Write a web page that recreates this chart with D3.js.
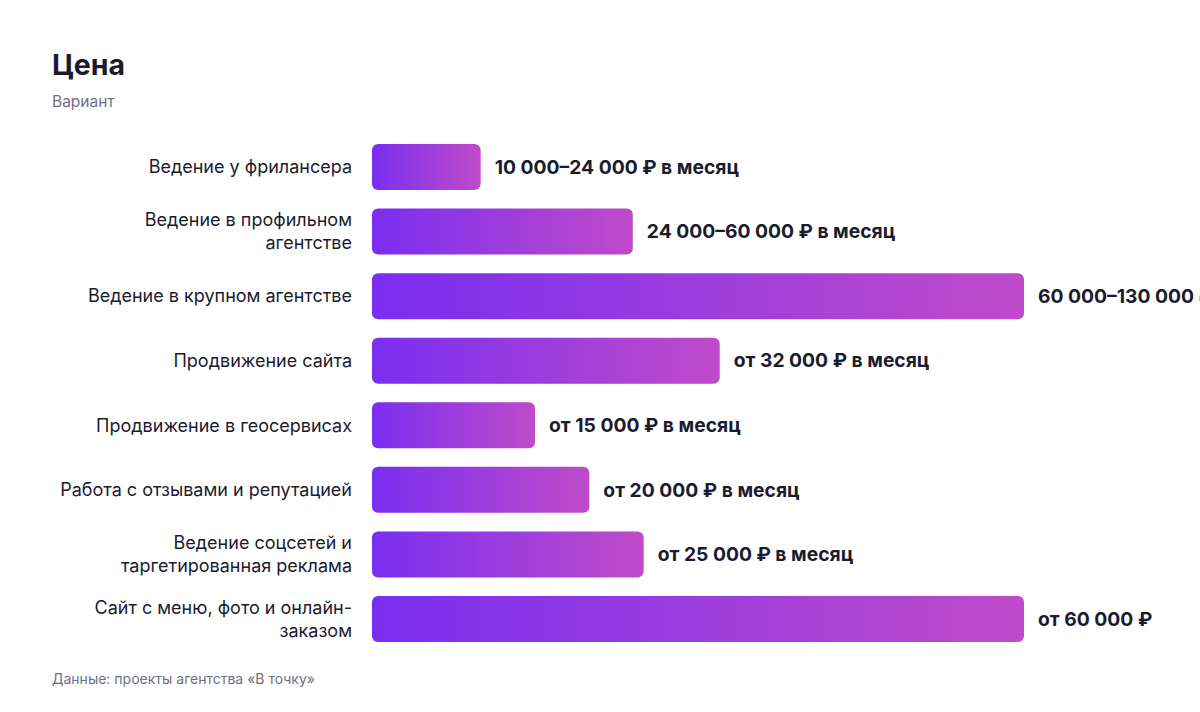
<!DOCTYPE html>
<html>
<head>
<meta charset="utf-8">
<script src="https://cdn.jsdelivr.net/npm/d3@7"></script>
<style>
  body { margin: 0; background: #fff; }
  svg { display: block; font-family: Inter, "Noto Sans", sans-serif; }
</style>
</head>
<body>
<script>
// categories and values (lower bound of price, rubles)
const categories = [
    "Ведение у фрилансера",
    "Ведение в профильном агентстве",
    "Ведение в крупном агентстве",
    "Продвижение сайта",
    "Продвижение в геосервисах",
    "Работа с отзывами и репутацией",
    "Ведение соцсетей и таргетированная реклама",
    "Сайт с меню, фото и онлайн-заказом"
];
const values = [10000, 24000, 60000, 32000, 15000, 20000, 25000, 60000];
const valueLabels = [
    "10 000–24 000 ₽ в месяц",
    "24 000–60 000 ₽ в месяц",
    "60 000–130 000 ₽ в месяц",
    "от 32 000 ₽ в месяц",
    "от 15 000 ₽ в месяц",
    "от 20 000 ₽ в месяц",
    "от 25 000 ₽ в месяц",
    "от 60 000 ₽"
];

var width = 1200, height = 712;
var left = 372, right = 1024;
var dark = "#1b1b2f", grey = "#707083";

var svg = d3.select("body").append("svg")
    .attr("width", width)
    .attr("height", height);

var grad = svg.append("defs").append("linearGradient")
    .attr("id", "barGrad")
    .attr("x1", "0%").attr("x2", "100%")
    .attr("y1", "0%").attr("y2", "0%");
grad.append("stop").attr("offset", "0%").attr("stop-color", "#7a2ef0");
grad.append("stop").attr("offset", "100%").attr("stop-color", "#bf4bc9");

// title
svg.append("text")
    .attr("x", 52).attr("y", 75)
    .attr("font-size", 28.5).attr("font-weight", 700)
    .attr("fill", dark)
    .text("Цена");
svg.append("text")
    .attr("x", 52).attr("y", 107)
    .attr("font-size", 15.5)
    .attr("fill", grey)
    .text("Вариант");

var x = d3.scaleLinear().domain([0, 60000]).range([left, right]);
var y = d3.scaleBand()
    .domain(categories)
    .range([134.7, 651.3])
    .paddingInner(0.2876)
    .paddingOuter(0.1438);

var rows = svg.append("g").selectAll("g")
    .data(categories.map((c, i) => ({c, v: values[i], label: valueLabels[i]})))
    .join("g");

rows.append("rect")
    .attr("x", x(0))
    .attr("y", d => y(d.c))
    .attr("width", d => x(d.v) - x(0))
    .attr("height", y.bandwidth())
    .attr("rx", 6)
    .attr("fill", "url(#barGrad)");

rows.append("text")
    .attr("x", d => x(d.v) + 14)
    .attr("y", d => y(d.c) + y.bandwidth() / 2)
    .attr("dy", "0.35em")
    .attr("font-size", 19.3).attr("font-weight", 700)
    .attr("fill", dark)
    .text(d => d.label);

// category labels, wrapped to fit
var maxLabel = 294;
var labels = rows.append("text")
    .attr("text-anchor", "end")
    .attr("font-size", 18)
    .attr("fill", dark);

labels.each(function(d) {
    var t = d3.select(this);
    var words = d.c.replace(/-/g, "- ").split(" ").filter(w => w.length);
    var lines = [], cur = "";
    var probe = t.append("tspan");
    words.forEach(w => {
        var joiner = cur.endsWith("-") ? "" : " ";
        var test = cur ? cur + joiner + w : w;
        probe.text(test);
        if (probe.node().getComputedTextLength() > maxLabel && cur) {
            lines.push(cur);
            cur = w;
        } else {
            cur = test;
        }
    });
    lines.push(cur);
    probe.remove();
    var lh = 23;
    var cy = y(d.c) + y.bandwidth() / 2;
    lines.forEach((l, i) => {
        t.append("tspan")
            .attr("x", 352)
            .attr("y", cy + (i - (lines.length - 1) / 2) * lh)
            .attr("dy", "0.35em")
            .text(l);
    });
});

svg.append("text")
    .attr("x", 52).attr("y", 684)
    .attr("font-size", 14)
    .attr("fill", grey)
    .text("Данные: проекты агентства «В точку»");
</script>
</body>
</html>
